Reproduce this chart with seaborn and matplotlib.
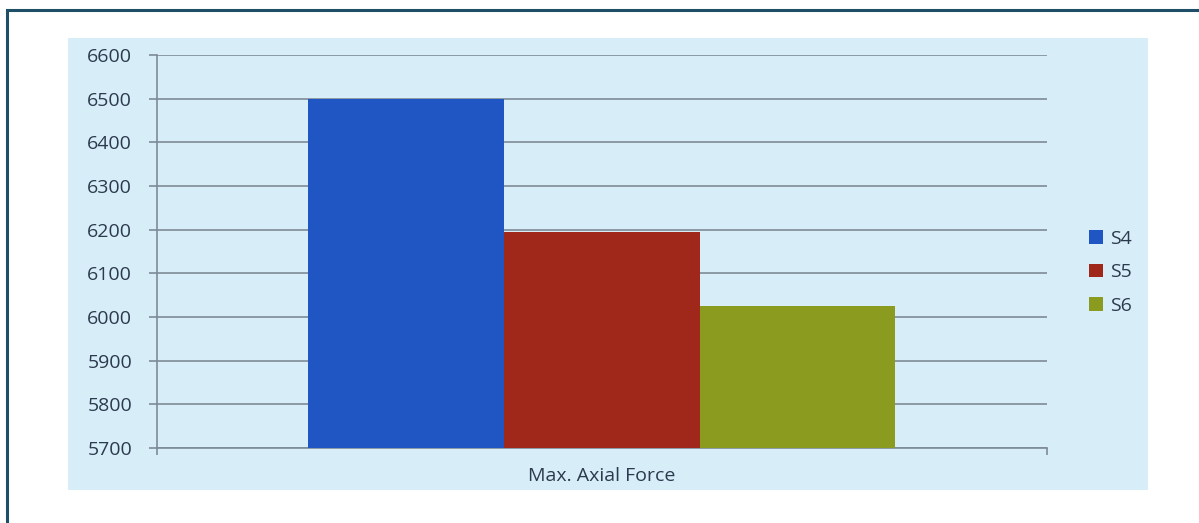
import pandas as pd
import numpy as np
import seaborn as sns
import matplotlib.pyplot as plt
from matplotlib.patches import Rectangle, Patch

# values
category = ["Max. Axial Force"]
series = ["S4", "S5", "S6"]
values = [6500, 6195, 6025]
colors = ["#1F56C4", "#A0281A", "#8A9B1F"]
yticks = [5700, 5800, 5900, 6000, 6100, 6200, 6300, 6400, 6500, 6600]

data = pd.DataFrame({"case": category * len(series), "series": series, "force": values})

TEXT = "#2B3A4C"
GRID = "#7D8B96"
PANEL = "#D7EEF9"
FS = 14

sns.set_theme(style="white")
plt.rcParams['font.family'] = ['Open Sans', 'DejaVu Sans']
plt.rcParams['font.weight'] = 500

fig = plt.figure(figsize=(11.99, 5.23), dpi=100)
fig.patch.set_facecolor("white")

# light blue chart area and the dark frame around the page
fig.patches.append(Rectangle((0.0567, 0.0631), 0.9008, 0.8642, transform=fig.transFigure,
                             facecolor=PANEL, edgecolor="none", zorder=-2))
fig.patches.append(Rectangle((0.0058, -0.05), 1.2, 1.031, transform=fig.transFigure,
                             facecolor="none", edgecolor="#1E4F66", linewidth=2.2, zorder=-1))

ax = fig.add_axes([0.131, 0.1434, 0.742, 0.7514])
ax.set_zorder(1)
ax.set_facecolor("none")

sns.barplot(data=data, x="case", y="force", hue="series", palette=colors,
            width=0.66, gap=0, saturation=1, edgecolor="none", legend=False, ax=ax, zorder=3)

ax.set_ylim(5700, 6600)
ax.set_xlim(-0.5, 0.5)
ax.set_yticks(yticks)
ax.yaxis.grid(True, color=GRID, linewidth=1.2)
ax.set_axisbelow(True)

for s in ["top", "right"]:
    ax.spines[s].set_visible(False)
ax.spines["left"].set_color(GRID)
ax.spines["bottom"].set_color(GRID)
ax.spines["left"].set_linewidth(1.2)
ax.spines["bottom"].set_linewidth(1.2)

ax.tick_params(axis="y", left=True, length=6, width=1.2, color=GRID, labelsize=FS,
               labelcolor=TEXT, pad=12)
ax.tick_params(axis="x", bottom=False, labelsize=FS, labelcolor=TEXT, pad=8)
# small category boundary ticks at both ends of the x axis
ax.set_xticks([-0.5, 0.5], minor=True)
ax.tick_params(axis="x", which="minor", bottom=True, length=5, width=1.2, color=GRID)

ax.set_xlabel("")
ax.set_ylabel("")

handles = [Patch(facecolor=c, edgecolor="none", label=s) for s, c in zip(series, colors)]
leg = fig.legend(handles=handles, loc="center left", bbox_to_anchor=(0.894, 0.479),
                 frameon=False, fontsize=FS, handlelength=0.7, handleheight=0.7,
                 handletextpad=0.35, labelspacing=0.8)
for t in leg.get_texts():
    t.set_color(TEXT)

plt.savefig("out.png", dpi=100)
plt.close()
